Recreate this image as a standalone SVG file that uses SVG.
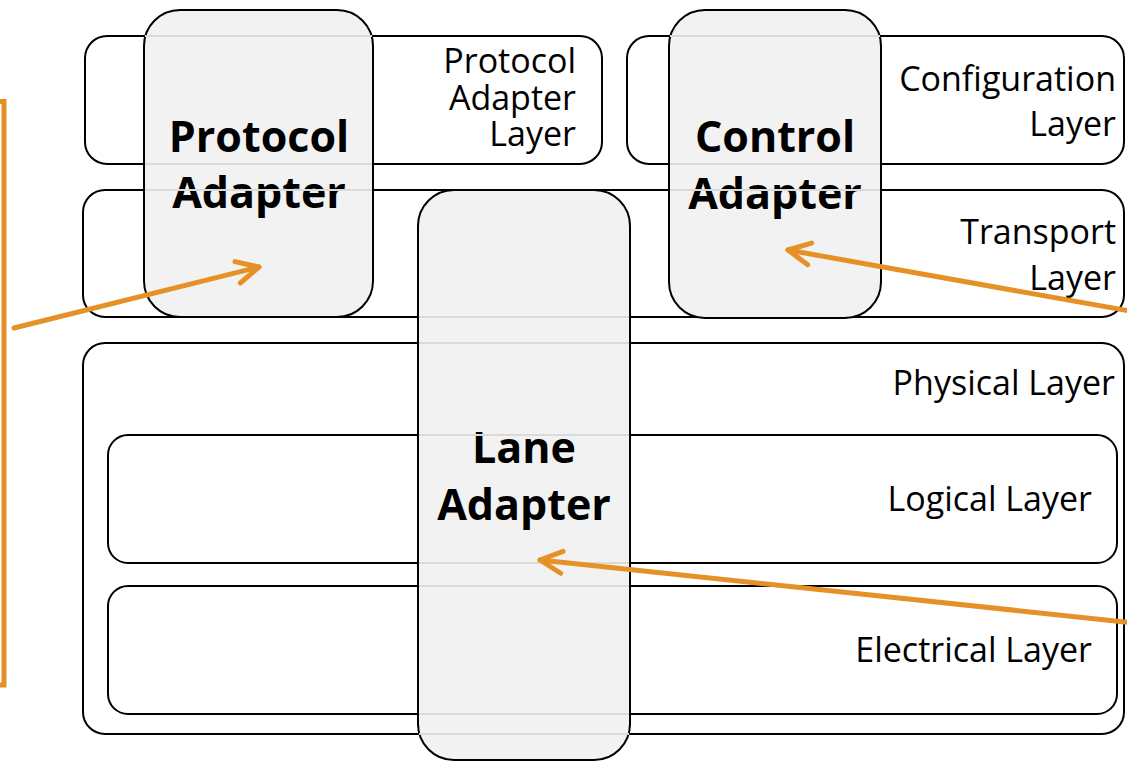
<svg xmlns="http://www.w3.org/2000/svg" width="1127" height="761" viewBox="0 0 1127 761">
  <style>
    .layer { fill: #ffffff; stroke: #000000; stroke-width: 2; }
    .adapter { fill: #f2f2f2; stroke: #000000; stroke-width: 2; }
    .lbl { font-family: "Open Sans", "Noto Sans", sans-serif; font-size: 34px; fill: #000000; text-anchor: end; }
    .big { font-family: "Open Sans", "Noto Sans", sans-serif; font-size: 43px; font-weight: bold; fill: #000000; text-anchor: middle; }
    .ghost { stroke: #dadada; stroke-width: 2; fill: none; }
    .conn { stroke: #e69128; stroke-width: 5; fill: none; stroke-linecap: round; }
  </style>
  <defs>
    <marker id="chev" markerUnits="userSpaceOnUse" viewBox="-30 -20 40 40" markerWidth="40" markerHeight="40" refX="0" refY="0" orient="auto">
      <path d="M -22 -11 L 0 0 L -22 11" fill="none" stroke="#e69128" stroke-width="5" stroke-linecap="round" stroke-linejoin="round"/>
    </marker>
  </defs>
  <rect width="1127" height="761" fill="#ffffff"/>

  <g id="protocol-adapter-layer">
    <rect class="layer" x="85" y="36" width="517" height="128" rx="22"/>
    <text class="lbl" x="576" y="73">Protocol</text>
    <text class="lbl" x="576" y="110">Adapter</text>
    <text class="lbl" x="576" y="146">Layer</text>
  </g>
  <g id="configuration-layer">
    <rect class="layer" x="627" y="36" width="497" height="128" rx="22"/>
    <text class="lbl" x="1116" y="91">Configuration</text>
    <text class="lbl" x="1116" y="136">Layer</text>
  </g>
  <g id="transport-layer">
    <rect class="layer" x="83" y="190" width="1041" height="127" rx="22"/>
    <text class="lbl" x="1116" y="244">Transport</text>
    <text class="lbl" x="1116" y="290">Layer</text>
  </g>
  <g id="physical-layer">
    <rect class="layer" x="83" y="343" width="1041" height="391" rx="22"/>
    <text class="lbl" x="1115" y="395">Physical Layer</text>
  </g>
  <g id="logical-layer">
    <rect class="layer" x="108" y="435" width="1009" height="128" rx="20"/>
    <text class="lbl" x="1092" y="511">Logical Layer</text>
  </g>
  <g id="electrical-layer">
    <rect class="layer" x="108" y="586" width="1009" height="128" rx="20"/>
    <text class="lbl" x="1092" y="662">Electrical Layer</text>
  </g>

  <g id="protocol-adapter">
    <rect class="adapter" x="144" y="10" width="229" height="307" rx="36"/>
    <text class="big" x="259" y="152">Protocol</text>
    <text class="big" x="259" y="208">Adapter</text>
    <path class="ghost" d="M145 36 H372 M145 164 H372 M145 190 H372"/>
  </g>
  <g id="control-adapter">
    <rect class="adapter" x="669" y="10" width="212" height="308" rx="36"/>
    <text class="big" x="775" y="152">Control</text>
    <text class="big" x="775" y="209">Adapter</text>
    <path class="ghost" d="M670 36 H880 M670 164 H880 M670 190 H880"/>
  </g>
  <g id="lane-adapter">
    <rect class="adapter" x="418" y="190" width="212" height="570" rx="36"/>
    <text class="big" x="524" y="463">Lane</text>
    <text class="big" x="524" y="520">Adapter</text>
    <path class="ghost" d="M419 317 H629 M419 343 H629 M419 435 H629 M419 563 H629 M419 586 H629 M419 714 H629 M419 734 H629"/>
  </g>

  <g id="connectors">
    <path class="conn" d="M -10 101.5 H 4 V 685 H -10"/>
    <path class="conn" d="M 14 328 L 259 267" marker-end="url(#chev)"/>
    <path class="conn" d="M 1135 312 L 788 250" marker-end="url(#chev)"/>
    <path class="conn" d="M 1135 623 L 540 560" marker-end="url(#chev)"/>
  </g>
</svg>
